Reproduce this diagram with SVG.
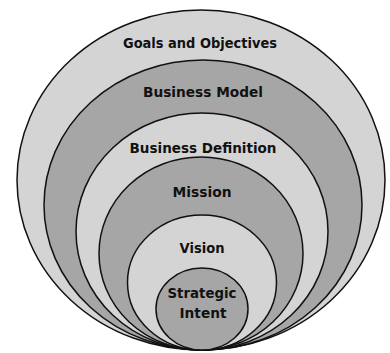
<svg xmlns="http://www.w3.org/2000/svg" width="390" height="353" viewBox="0 0 390 353">
<style>
.light{fill:#d4d4d4;stroke:#111;stroke-width:1.5}
.dark{fill:#a6a6a6;stroke:#111;stroke-width:1.5}
.lbl{font-family:"DejaVu Sans","Liberation Sans",sans-serif;font-weight:bold;font-size:13.5px;fill:#111;text-anchor:middle}
</style>
<rect width="390" height="353" fill="#ffffff"/>
<g id="goals"><ellipse class="light" cx="201" cy="180" rx="184" ry="170"/><text class="lbl" x="200" y="48" textLength="154" lengthAdjust="spacingAndGlyphs">Goals and Objectives</text></g>
<g id="business-model"><ellipse class="dark" cx="203" cy="205" rx="159" ry="145"/><text class="lbl" x="203" y="97" textLength="120" lengthAdjust="spacingAndGlyphs">Business Model</text></g>
<g id="business-definition"><ellipse class="light" cx="202" cy="231.5" rx="126" ry="118.5"/><text class="lbl" x="203" y="153" textLength="147" lengthAdjust="spacingAndGlyphs">Business Definition</text></g>
<g id="mission"><ellipse class="dark" cx="201" cy="253.5" rx="102" ry="96.5"/><text class="lbl" x="202" y="197" textLength="59" lengthAdjust="spacingAndGlyphs">Mission</text></g>
<g id="vision"><ellipse class="light" cx="202" cy="282.5" rx="74.5" ry="67.5"/><text class="lbl" x="202" y="253" textLength="45" lengthAdjust="spacingAndGlyphs">Vision</text></g>
<g id="strategic-intent"><ellipse class="dark" cx="202" cy="309" rx="46" ry="41"/><text class="lbl" x="202" y="298" textLength="69" lengthAdjust="spacingAndGlyphs">Strategic</text><text class="lbl" x="203" y="318" textLength="47" lengthAdjust="spacingAndGlyphs">Intent</text></g>
<g id="connectors"/>
</svg>
